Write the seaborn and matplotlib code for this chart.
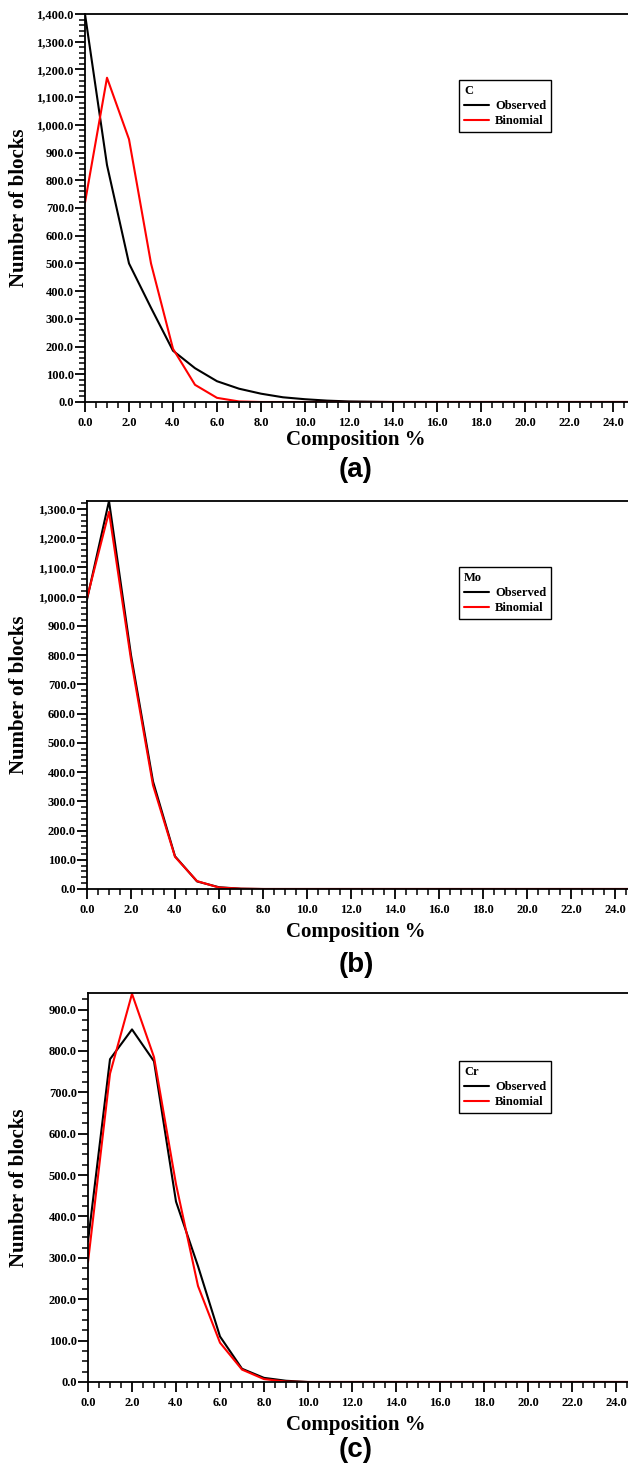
import matplotlib
matplotlib.use("Agg")
import matplotlib.pyplot as plt
from matplotlib.ticker import MultipleLocator, FuncFormatter
import seaborn as sns
import pandas as pd

# Composition (%) of each bin
composition = [0, 1, 2, 3, 4, 5, 6, 7, 8, 9, 10, 11, 12,
               13, 14, 15, 16, 17, 18, 19, 20, 21, 22, 23, 24, 25]

# Carbon
c_observed = [1400, 855, 500, 340, 185, 122, 75, 48, 30, 17, 10, 5, 2,
              1, 0, 0, 0, 0, 0, 0, 0, 0, 0, 0, 0, 0]
c_binomial = [720, 1170, 948, 500, 192, 62, 15, 2, 0, 0, 0, 0, 0,
              0, 0, 0, 0, 0, 0, 0, 0, 0, 0, 0, 0, 0]

# Molybdenum
mo_observed = [990, 1327, 800, 368, 112, 26, 6, 1, 0, 0, 0, 0, 0,
               0, 0, 0, 0, 0, 0, 0, 0, 0, 0, 0, 0, 0]
mo_binomial = [995, 1290, 785, 355, 110, 27, 5, 1, 0, 0, 0, 0, 0,
               0, 0, 0, 0, 0, 0, 0, 0, 0, 0, 0, 0, 0]

# Chromium
cr_observed = [340, 780, 852, 775, 436, 280, 110, 32, 10, 3, 0, 0, 0,
               0, 0, 0, 0, 0, 0, 0, 0, 0, 0, 0, 0, 0]
cr_binomial = [290, 745, 938, 785, 478, 232, 95, 30, 7, 1, 0, 0, 0,
               0, 0, 0, 0, 0, 0, 0, 0, 0, 0, 0, 0, 0]

elements = ["C", "Mo", "Cr"]
panel_tags = ["(a)", "(b)", "(c)"]
y_limits = [1400, 1327, 940]
y_minor_steps = [20, 20, 25]

sns.set_style("ticks")
plt.rcParams["font.family"] = ["Liberation Serif", "DejaVu Serif"]
plt.rcParams["font.weight"] = "bold"
for key in ["text.color", "axes.labelcolor", "xtick.color", "ytick.color",
            "xtick.labelcolor", "ytick.labelcolor", "axes.edgecolor"]:
    plt.rcParams[key] = "black"

W, H = 628, 1470
fig = plt.figure(figsize=(W / 100, H / 100), dpi=100)

# axes boxes in pixels: left, right, top, bottom
boxes = [(85, 635, 14, 402), (87, 637, 501, 889), (88, 638, 993, 1382)]
legend_top = [80, 567, 1061]
xlabel_y = [440, 932, 1425]
tag_y = [470, 965, 1450]

series = [(c_observed, c_binomial), (mo_observed, mo_binomial),
          (cr_observed, cr_binomial)]

for i, (obs, binom) in enumerate(series):
    l, r, t, b = boxes[i]
    ax = fig.add_axes([l / W, 1 - b / H, (r - l) / W, (b - t) / H])
    df = pd.DataFrame({"Composition": composition * 2,
                       "Blocks": obs + binom,
                       "Series": ["Observed"] * len(obs) + ["Binomial"] * len(binom)})
    sns.lineplot(data=df, x="Composition", y="Blocks", hue="Series",
                 palette={"Observed": "black", "Binomial": "#ff0000"},
                 linewidth=1.5, ax=ax, legend=True)
    ax.set_xlim(0, 25)
    ax.set_ylim(0, y_limits[i])

    for side in ["left", "bottom", "top", "right"]:
        ax.spines[side].set_linewidth(1.3)
        ax.spines[side].set_color("black")

    ax.xaxis.set_major_locator(MultipleLocator(2))
    ax.xaxis.set_minor_locator(MultipleLocator(0.5))
    ax.yaxis.set_major_locator(MultipleLocator(100))
    ax.yaxis.set_minor_locator(MultipleLocator(y_minor_steps[i]))
    ax.xaxis.set_major_formatter(FuncFormatter(lambda v, p: f"{v:.1f}"))
    ax.yaxis.set_major_formatter(FuncFormatter(lambda v, p: f"{v:,.1f}"))
    ax.tick_params(axis="both", which="major", direction="out", length=7,
                   width=1.3, labelsize=9, colors="black")
    ax.tick_params(axis="both", which="minor", direction="out", length=4,
                   width=1.1, colors="black")
    ax.tick_params(axis="y", pad=1)
    ax.tick_params(axis="x", pad=4)
    for lab in ax.get_xticklabels() + ax.get_yticklabels():
        lab.set_fontweight("bold")

    ax.set_ylabel("Number of blocks", fontsize=15, fontweight="bold", color="black")
    ax.yaxis.set_label_coords((29 - l) / (r - l), 0.5)
    ax.set_xlabel("Composition %", fontsize=15, fontweight="bold", color="black")
    ax.xaxis.set_label_coords((356 - l) / (r - l), (b - xlabel_y[i] + 10) / (b - t))

    handles, labels = ax.get_legend_handles_labels()
    leg = ax.legend(handles, labels, title=elements[i], loc="upper left",
                    bbox_to_anchor=((459 - l) / (r - l), (b - legend_top[i]) / (b - t)),
                    borderaxespad=0, frameon=True, fancybox=False,
                    edgecolor="black", framealpha=1, handlelength=2.0,
                    handletextpad=0.5, labelspacing=0.25, borderpad=0.4,
                    prop={"weight": "bold", "size": 9},
                    title_fontproperties={"weight": "bold", "size": 9},
                    alignment="left")
    leg.get_frame().set_linewidth(1.0)

    fig.text(356 / W, 1 - tag_y[i] / H, panel_tags[i], ha="center", va="center",
             fontsize=20, fontweight="bold", color="black",
             family=["Liberation Sans", "DejaVu Sans"])

fig.savefig("out.png", dpi=100)
